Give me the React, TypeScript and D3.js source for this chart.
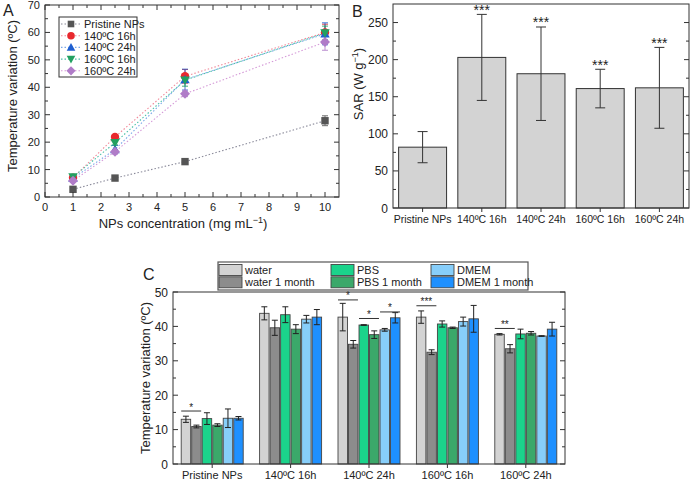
import React from "react";
import * as d3 from "d3";

// ---------- Panel A data ----------
const concA = [1, 2.5, 5, 10];
const seriesA = ["Pristine NPs", "140ºC 16h", "140ºC 24h", "160ºC 16h", "160ºC 24h"];
const pristineA = [2.8, 6.9, 12.9, 27.8];
const t140h16A = [7.0, 21.9, 44.0, 60.0];
const t140h24A = [6.8, 17.3, 42.8, 59.5];
const t160h16A = [7.3, 19.8, 42.6, 59.8];
const t160h24A = [5.9, 16.5, 37.6, 56.5];
const errPristineA = [0.3, 0.4, 0.5, 1.8];
const err140h16A = [0.5, 0.8, 2.5, 3.0];
const err140h24A = [0.6, 1.5, 3.8, 4.0];
const err160h16A = [0.5, 0.8, 2.2, 2.5];
const err160h24A = [0.5, 0.8, 1.0, 3.0];
const xTicksA = [0, 1, 2, 3, 4, 5, 6, 7, 8, 9, 10];
const yTicksA = [0, 10, 20, 30, 40, 50, 60, 70];

// ---------- Panel B data ----------
const catsB = ["Pristine NPs", "140ºC 16h", "140ºC 24h", "160ºC 16h", "160ºC 24h"];
const sarB = [82, 203, 181, 161, 162];
const sarErrB = [21, 58, 63, 26, 54.5];
const sigB = ["", "***", "***", "***", "***"];
const yTicksB = [0, 50, 100, 150, 200, 250];

// ---------- Panel C data ----------
const groupsC = ["Pristine NPs", "140ºC 16h", "140ºC 24h", "160ºC 16h", "160ºC 24h"];
const mediaC = ["water", "water 1 month", "PBS", "PBS 1 month", "DMEM", "DMEM 1 month"];
const waterC = [13.0, 43.8, 42.7, 42.7, 37.7];
const water1mC = [10.9, 39.6, 34.8, 32.5, 33.5];
const pbsC = [13.2, 43.4, 40.4, 40.7, 37.8];
const pbs1mC = [11.3, 39.2, 37.6, 39.6, 38.0];
const dmemC = [13.3, 42.1, 39.0, 41.4, 37.2];
const dmem1mC = [13.3, 42.7, 42.5, 42.2, 39.2];
const waterErrC = [0.9, 1.9, 4.0, 1.8, 0.2];
const water1mErrC = [0.4, 2.2, 1.1, 0.7, 1.2];
const pbsErrC = [1.7, 2.3, 0.1, 0.9, 1.4];
const pbs1mErrC = [0.4, 1.3, 1.1, 0.2, 0.5];
const dmemErrC = [2.7, 1.1, 0.4, 1.3, 0.1];
const dmem1mErrC = [0.5, 2.2, 1.5, 3.9, 2.0];
const sigGroupC = ["Pristine NPs", "140ºC 24h", "140ºC 24h", "140ºC 24h", "160ºC 16h", "160ºC 24h"];
const sigFirstC = [0, 0, 2, 4, 0, 0];
const sigLabelC = ["*", "*", "*", "*", "***", "**"];
const sigYC = [15.4, 47.7, 42.3, 44.2, 46.0, 39.4];
const yTicksC = [0, 10, 20, 30, 40, 50];

const FONT = "Arial, 'Liberation Sans', sans-serif";
const AX = "#333";

const colorsA = ["#555555", "#e8282d", "#1f5fd0", "#22a060", "#b07cc8"];
const lineColorsA = ["#8a8a9a", "#f08a9a", "#7aa8e8", "#4cc0a8", "#d59ad8"];
const colorsC = ["#d3d3d3", "#8c8c8c", "#1bd38b", "#3ba86a", "#87cefa", "#1e90ff"];

function Marker({ kind, x, y, color, s = 4.2 }: { kind: number; x: number; y: number; color: string; s?: number }) {
  if (kind === 0) return <rect x={x - s + 0.5} y={y - s + 0.5} width={2 * s - 1} height={2 * s - 1} fill={color} />;
  if (kind === 1) return <circle cx={x} cy={y} r={s} fill={color} />;
  if (kind === 2)
    return <path d={`M${x},${y - s - 0.5}L${x + s + 0.5},${y + s - 0.5}L${x - s - 0.5},${y + s - 0.5}Z`} fill={color} />;
  if (kind === 3)
    return <path d={`M${x},${y + s + 0.5}L${x + s + 0.5},${y - s + 0.5}L${x - s - 0.5},${y - s + 0.5}Z`} fill={color} />;
  return <path d={`M${x},${y - s - 0.8}L${x + s + 0.8},${y}L${x},${y + s + 0.8}L${x - s - 0.8},${y}Z`} fill={color} />;
}

function PanelA() {
  const x = d3.scaleLinear().domain([0, 10.5]).range([45, 339]);
  const y = d3.scaleLinear().domain([0, 70]).range([197, 5]);
  const vals = [pristineA, t140h16A, t140h24A, t160h16A, t160h24A];
  const errs = [errPristineA, err140h16A, err140h24A, err160h16A, err160h24A];
  const line = d3
    .line<number>()
    .x((_, i) => x(concA[i]))
    .y((d) => y(d));
  const minorX = d3.range(0.5, 10.5, 1);
  const minorY = d3.range(5, 70, 10);
  const [x0, x1] = x.range();
  const [y0, y1] = y.range();
  return (
    <g>
      {vals.map((v, si) => (
        <path key={"l" + si} d={line(v) || ""} fill="none" stroke={lineColorsA[si]} strokeWidth={1.1} strokeDasharray="1.5,2" />
      ))}
      {vals.map((v, si) =>
        v.map((d, i) => {
          const cx = x(concA[i]);
          const e = errs[si][i];
          return (
            <g key={"e" + si + "-" + i} stroke={colorsA[si]} strokeWidth={1} opacity={0.85}>
              <line x1={cx} x2={cx} y1={y(d - e)} y2={y(d + e)} />
              <line x1={cx - 3} x2={cx + 3} y1={y(d - e)} y2={y(d - e)} />
              <line x1={cx - 3} x2={cx + 3} y1={y(d + e)} y2={y(d + e)} />
            </g>
          );
        })
      )}
      {vals.map((v, si) =>
        v.map((d, i) => <Marker key={"m" + si + "-" + i} kind={si} x={x(concA[i])} y={y(d)} color={colorsA[si]} />)
      )}
      <rect x={x0} y={y1} width={x1 - x0} height={y0 - y1} fill="none" stroke={AX} strokeWidth={1} />
      {xTicksA.map((t) => (
        <g key={"xt" + t}>
          <line x1={x(t)} x2={x(t)} y1={y0} y2={y0 - 5} stroke={AX} />
          <line x1={x(t)} x2={x(t)} y1={y1} y2={y1 + 5} stroke={AX} />
          <text x={x(t)} y={y0 + 14} textAnchor="middle" fontSize={11} fontFamily={FONT} fill="#222">
            {t}
          </text>
        </g>
      ))}
      {minorX.map((t) => (
        <g key={"xm" + t}>
          <line x1={x(t)} x2={x(t)} y1={y0} y2={y0 - 3} stroke={AX} />
          <line x1={x(t)} x2={x(t)} y1={y1} y2={y1 + 3} stroke={AX} />
        </g>
      ))}
      {yTicksA.map((t) => (
        <g key={"yt" + t}>
          <line x1={x0} x2={x0 + 5} y1={y(t)} y2={y(t)} stroke={AX} />
          <line x1={x1} x2={x1 - 5} y1={y(t)} y2={y(t)} stroke={AX} />
          <text x={x0 - 5} y={y(t) + 4} textAnchor="end" fontSize={11} fontFamily={FONT} fill="#222">
            {t}
          </text>
        </g>
      ))}
      {minorY.map((t) => (
        <g key={"ym" + t}>
          <line x1={x0} x2={x0 + 3} y1={y(t)} y2={y(t)} stroke={AX} />
          <line x1={x1} x2={x1 - 3} y1={y(t)} y2={y(t)} stroke={AX} />
        </g>
      ))}
      <text x={183} y={228} textAnchor="middle" fontSize={13} fontFamily={FONT} fill="#222">
        NPs concentration (mg mL
        <tspan dy={-5} fontSize={9}>−1</tspan>
        <tspan dy={5}>)</tspan>
      </text>
      <text transform="translate(17,96) rotate(-90)" textAnchor="middle" fontSize={13} fontFamily={FONT} fill="#222">
        Temperature variation (ºC)
      </text>
      <text x={3} y={16} fontSize={16} fontFamily={FONT} fill="#222">
        A
      </text>
      {/* legend */}
      <rect x={59} y={17} width={78} height={60} fill="white" stroke={AX} strokeWidth={1} />
      {seriesA.map((s, i) => {
        const yy = 24 + i * 11.7;
        return (
          <g key={"lg" + i}>
            <line x1={61} x2={81} y1={yy} y2={yy} stroke={lineColorsA[i]} strokeWidth={1.1} strokeDasharray="1.5,2" />
            <Marker kind={i} x={71} y={yy} color={colorsA[i]} s={3.8} />
            <text x={84} y={yy + 4} fontSize={11} fontFamily={FONT} fill="#222">
              {s}
            </text>
          </g>
        );
      })}
    </g>
  );
}

function PanelB() {
  const x = d3.scaleBand<string>().domain(catsB).range([393, 689]).paddingInner(0.19).paddingOuter(0.095);
  const y = d3.scaleLinear().domain([0, 275]).range([208, 4]);
  const [y0, y1] = y.range();
  const minorY = d3.range(25, 275, 50);
  return (
    <g>
      {catsB.map((c, i) => {
        const bx = x(c)!;
        const cx = bx + x.bandwidth() / 2;
        const v = sarB[i];
        const e = sarErrB[i];
        return (
          <g key={c}>
            <rect x={bx} y={y(v)} width={x.bandwidth()} height={y0 - y(v)} fill="#d3d3d3" stroke="#333" strokeWidth={1} />
            <g stroke="#333" strokeWidth={1}>
              <line x1={cx} x2={cx} y1={y(v - e)} y2={y(v + e)} />
              <line x1={cx - 5} x2={cx + 5} y1={y(v - e)} y2={y(v - e)} />
              <line x1={cx - 5} x2={cx + 5} y1={y(v + e)} y2={y(v + e)} />
            </g>
            {sigB[i] && (
              <text x={cx} y={y(v + e) + 0.5} textAnchor="middle" fontSize={14} fontFamily={FONT} fill="#222">
                {sigB[i]}
              </text>
            )}
            <line x1={cx} x2={cx} y1={y0} y2={y0 + 4} stroke={AX} />
            <text x={cx} y={y0 + 15} textAnchor="middle" fontSize={10.5} fontFamily={FONT} fill="#222">
              {c}
            </text>
          </g>
        );
      })}
      <rect x={393} y={y1} width={296} height={y0 - y1} fill="none" stroke={AX} strokeWidth={1} />
      {yTicksB.map((t) => (
        <g key={"yt" + t}>
          <line x1={393} x2={398} y1={y(t)} y2={y(t)} stroke={AX} />
          <line x1={689} x2={684} y1={y(t)} y2={y(t)} stroke={AX} />
          <text x={388} y={y(t) + 4.5} textAnchor="end" fontSize={12} fontFamily={FONT} fill="#222">
            {t}
          </text>
        </g>
      ))}
      {minorY.map((t) => (
        <g key={"ym" + t}>
          <line x1={393} x2={396} y1={y(t)} y2={y(t)} stroke={AX} />
          <line x1={689} x2={686} y1={y(t)} y2={y(t)} stroke={AX} />
        </g>
      ))}
      <text transform="translate(363,84) rotate(-90)" textAnchor="middle" fontSize={13} fontFamily={FONT} fill="#222">
        SAR (W g<tspan dy={-5} fontSize={9}>−1</tspan>
        <tspan dy={5}>)</tspan>
      </text>
      <text x={352} y={17} fontSize={16} fontFamily={FONT} fill="#222">
        B
      </text>
    </g>
  );
}

function PanelC() {
  const x = d3.scaleBand<string>().domain(groupsC).range([173, 565]).padding(0);
  const sub = d3.scaleBand<string>().domain(mediaC).range([-31, 31]).paddingInner(0.1);
  const y = d3.scaleLinear().domain([0, 50]).range([464, 292]);
  const [y0, y1] = y.range();
  const vals = [waterC, water1mC, pbsC, pbs1mC, dmemC, dmem1mC];
  const errs = [waterErrC, water1mErrC, pbsErrC, pbs1mErrC, dmemErrC, dmem1mErrC];
  const minorY = d3.range(5, 50, 10);
  return (
    <g>
      {groupsC.map((g, gi) => {
        const gc = x(g)! + x.bandwidth() / 2;
        return (
          <g key={g}>
            {mediaC.map((m, mi) => {
              const bx = gc + sub(m)!;
              const v = vals[mi][gi];
              return (
                <rect
                  key={m}
                  x={bx}
                  y={y(v)}
                  width={sub.bandwidth()}
                  height={y0 - y(v)}
                  fill={colorsC[mi]}
                  stroke="#444"
                  strokeWidth={0.9}
                />
              );
            })}
            {mediaC.map((m, mi) => {
              const cx = gc + sub(m)! + sub.bandwidth() / 2;
              const v = vals[mi][gi];
              const e = errs[mi][gi];
              return (
                <g key={"e" + m} stroke="#222" strokeWidth={1}>
                  <line x1={cx} x2={cx} y1={y(v - e)} y2={y(v + e)} />
                  <line x1={cx - 3} x2={cx + 3} y1={y(v - e)} y2={y(v - e)} />
                  <line x1={cx - 3} x2={cx + 3} y1={y(v + e)} y2={y(v + e)} />
                </g>
              );
            })}
            <line x1={gc} x2={gc} y1={y0} y2={y0 + 4} stroke={AX} />
            <text x={gc} y={y0 + 15} textAnchor="middle" fontSize={11} fontFamily={FONT} fill="#222">
              {g}
            </text>
          </g>
        );
      })}
      {sigGroupC.map((g, i) => {
        const gc = x(g)! + x.bandwidth() / 2;
        const a = gc + sub(mediaC[sigFirstC[i]])!;
        const b = gc + sub(mediaC[sigFirstC[i] + 1])! + sub.bandwidth();
        const yy = y(sigYC[i]);
        return (
          <g key={"s" + i}>
            <line x1={a} x2={b} y1={yy} y2={yy} stroke="#333" strokeWidth={1} />
            <text x={(a + b) / 2} y={yy - 0.5} textAnchor="middle" fontSize={10} fontFamily={FONT} fill="#222">
              {sigLabelC[i]}
            </text>
          </g>
        );
      })}
      <rect x={173} y={y1} width={392} height={y0 - y1} fill="none" stroke={AX} strokeWidth={1} />
      {yTicksC.map((t) => (
        <g key={"yt" + t}>
          <line x1={173} x2={178} y1={y(t)} y2={y(t)} stroke={AX} />
          <line x1={565} x2={560} y1={y(t)} y2={y(t)} stroke={AX} />
          <text x={168} y={y(t) + 4.5} textAnchor="end" fontSize={12} fontFamily={FONT} fill="#222">
            {t}
          </text>
        </g>
      ))}
      {minorY.map((t) => (
        <g key={"ym" + t}>
          <line x1={173} x2={176} y1={y(t)} y2={y(t)} stroke={AX} />
          <line x1={565} x2={562} y1={y(t)} y2={y(t)} stroke={AX} />
        </g>
      ))}
      <text transform="translate(150,378) rotate(-90)" textAnchor="middle" fontSize={13} fontFamily={FONT} fill="#222">
        Temperature variation (ºC)
      </text>
      <text x={143} y={280} fontSize={16} fontFamily={FONT} fill="#222">
        C
      </text>
      {/* legend */}
      <rect x={218} y={262} width={310} height={28} fill="white" stroke="#555" strokeWidth={1.2} />
      {mediaC.map((m, i) => {
        const col = Math.floor(i / 2);
        const row = i % 2;
        const lx = [219, 331, 431][col];
        const ly = 264.5 + row * 12.3;
        return (
          <g key={"lg" + m}>
            <rect x={lx} y={ly} width={23} height={11} fill={colorsC[i]} stroke="#444" strokeWidth={0.9} />
            <text x={lx + 26} y={ly + 9.5} fontSize={11} fontFamily={FONT} fill="#222">
              {m}
            </text>
          </g>
        );
      })}
    </g>
  );
}

export default function App() {
  return (
    <svg
      width={692}
      height={483}
      viewBox="0 0 692 483"
      style={{ position: "absolute", left: 0, top: 0, background: "white" }}
    >
      <rect width={692} height={483} fill="white" />
      <PanelA />
      <PanelB />
      <PanelC />
    </svg>
  );
}
